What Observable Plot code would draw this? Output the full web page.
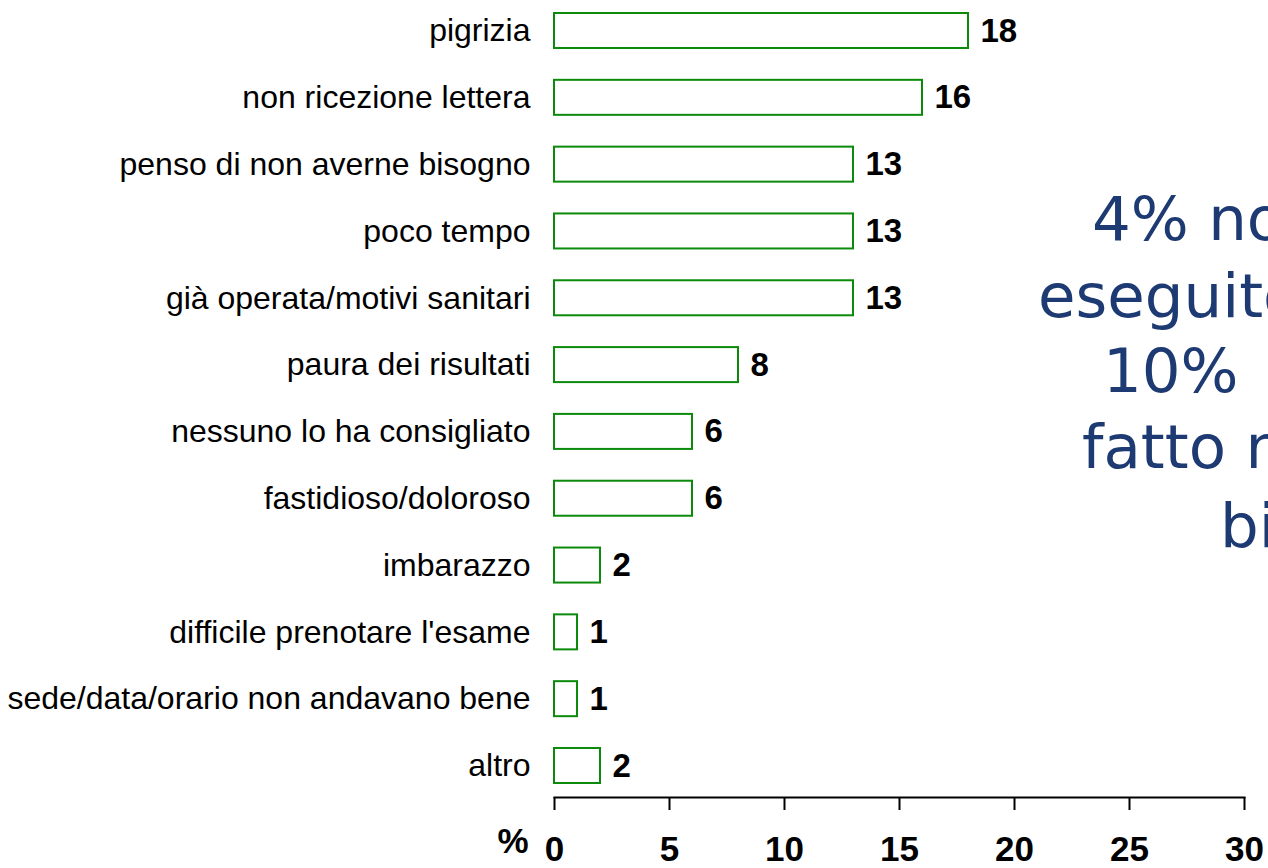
<!DOCTYPE html>
<html>
<head>
<meta charset="utf-8">
<script src="https://cdn.jsdelivr.net/npm/d3@7"></script>
<script src="https://cdn.jsdelivr.net/npm/@observablehq/plot@0.6"></script>
<style>
  html, body { margin: 0; padding: 0; background: #fff; overflow: hidden; }
  #chart { width: 1268px; height: 868px; overflow: hidden; position: relative; }
</style>
</head>
<body>
<div id="chart"></div>
<script>
// Data
const categories = [
  "pigrizia",
  "non ricezione lettera",
  "penso di non averne bisogno",
  "poco tempo",
  "già operata/motivi sanitari",
  "paura dei risultati",
  "nessuno lo ha consigliato",
  "fastidioso/doloroso",
  "imbarazzo",
  "difficile prenotare l'esame",
  "sede/data/orario non andavano bene",
  "altro"
];
const values = [18, 16, 13, 13, 13, 8, 6, 6, 2, 1, 1, 2];
const xTicks = [0, 5, 10, 15, 20, 25, 30];
const axisUnit = "%";
const noteLines = [
  "4% non l'ha mai",
  "eseguito, il",
  "10%",
  "fatto nell'ultimo",
  "biennio"
];

const data = categories.map((c, i) => ({category: c, value: values[i]}));

const W = 1268, H = 868;
const plot = Plot.plot({
  width: W,
  height: H,
  marginLeft: 554,
  marginRight: 24,
  marginTop: 13,
  marginBottom: 71,
  style: {fontFamily: "'Liberation Sans', Arial, sans-serif", color: "#000", background: "#fff", overflow: "hidden"},
  x: {domain: [0, 30], ticks: xTicks},
  y: {domain: categories, padding: 0.476, paddingOuter: 0, insetBottom: 14, round: false},
  marks: [
    Plot.barX(data, {y: "category", x: "value", fill: "#fff", stroke: "#0b8a0b", strokeWidth: 2}),
    Plot.text(data, {y: "category", x: "value", text: d => String(d.value), textAnchor: "start", dx: 12, fontSize: 33, fontWeight: "bold", fill: "#000"}),
    Plot.axisY({tickSize: 0, tickPadding: 24, fontSize: 32, label: null, fill: "#000"}),
    Plot.axisX({ticks: xTicks, tickSize: 13, tickPadding: 26, fontSize: 35, fontWeight: "bold", label: null, stroke: "#000", strokeWidth: 2, fill: "#000"}),
    Plot.frame({anchor: "bottom", stroke: "#000", strokeWidth: 2}),
    Plot.text([axisUnit], {frameAnchor: "bottom-left", textAnchor: "end", dx: -26, dy: 55, fontSize: 35, fontWeight: "bold", fill: "#000"})
  ]
});

document.getElementById("chart").appendChild(plot);

// Annotation text on the right (partially clipped by the page edge)
const svg = d3.select(plot);
const noteX = [1092, 1038, 1103, 1082, 1220];
const noteY = [240, 317, 392, 468, 547];
const g = svg.append("g")
  .attr("font-family", "'DejaVu Sans', Verdana, sans-serif")
  .attr("font-size", 61)
  .attr("fill", "#1d3a72");
noteLines.forEach((t, i) => {
  g.append("text").attr("x", noteX[i]).attr("y", noteY[i]).attr("text-anchor", "start").text(t);
});
</script>
</body>
</html>
